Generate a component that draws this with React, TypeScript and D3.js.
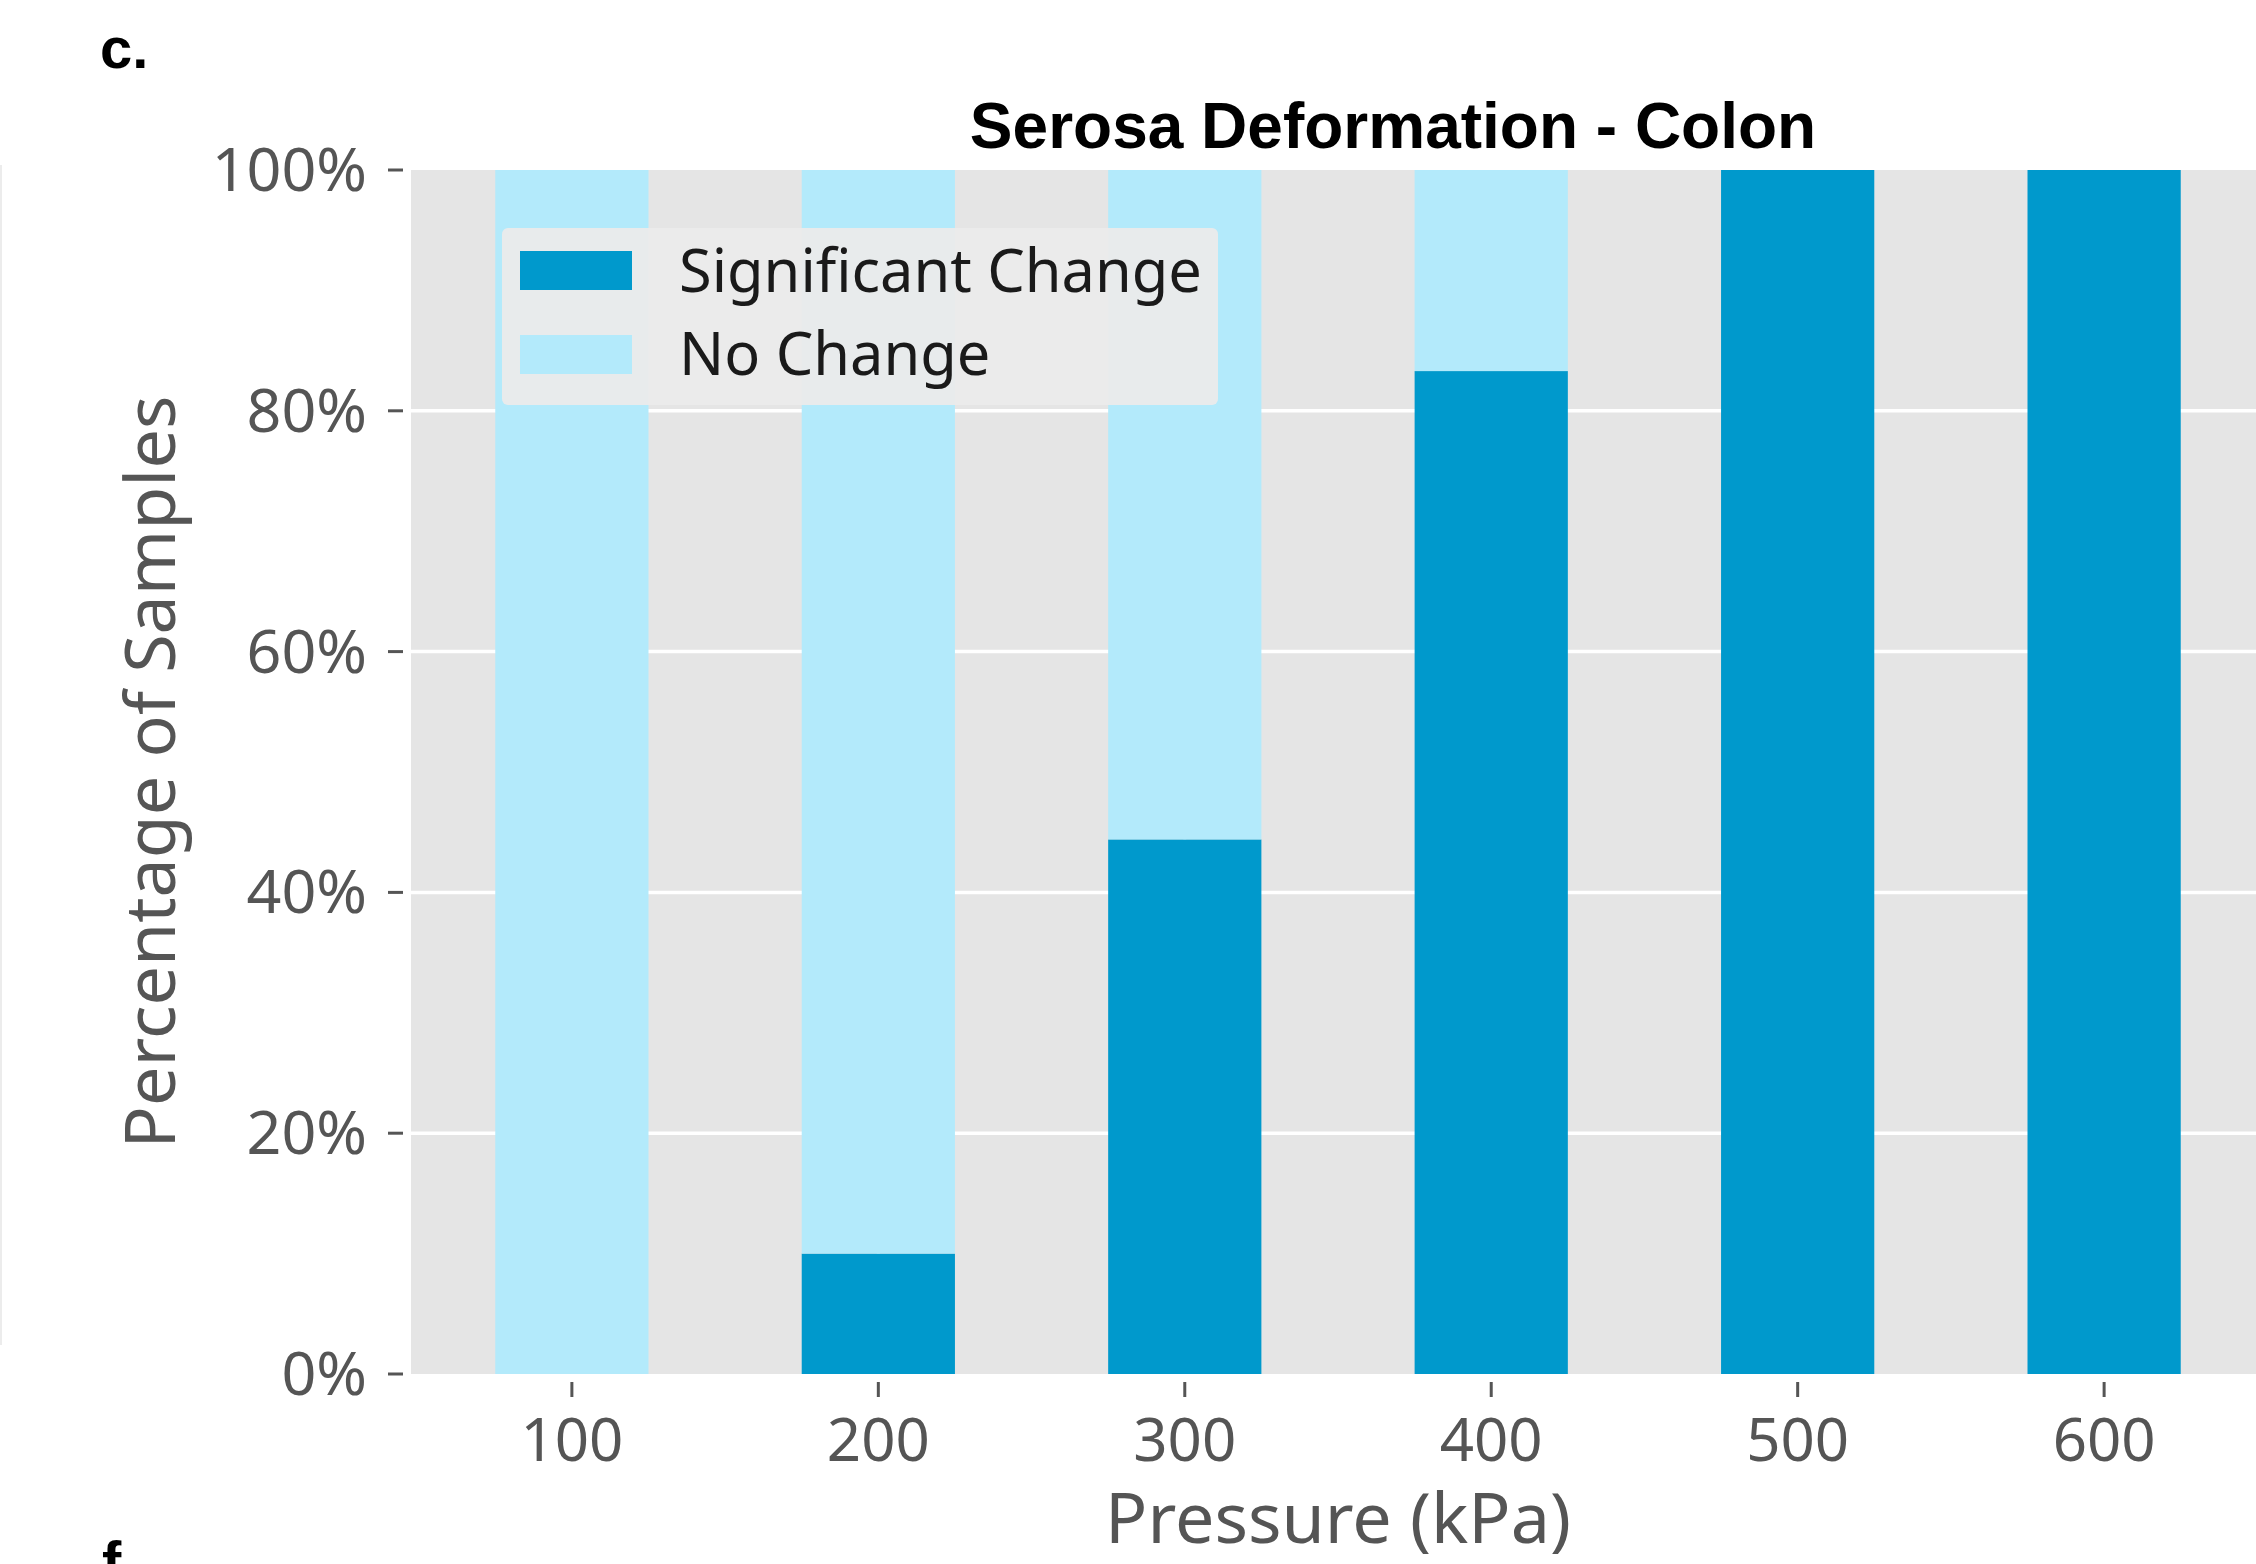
import React from "react";
import * as d3 from "d3";

const pressures = [100, 200, 300, 400, 500, 600];
const significantChange = [0, 10, 44.4, 83.3, 100, 100];
const noChange = [100, 90, 55.6, 16.7, 0, 0];
const yTicks = [0, 20, 40, 60, 80, 100];
const seriesNames = ["Significant Change", "No Change"];
const seriesColors = ["#0099cc", "#b3eafb"];
const titleText = "Serosa Deformation - Colon";
const xLabel = "Pressure (kPa)";
const yLabel = "Percentage of Samples";

export default function App() {
  const W = 2256, H = 1564;
  const left = 411, right = 2265, top = 170, bottom = 1374;
  const x = d3.scaleLinear().domain([47.5, 652.5]).range([left, right]);
  const y = d3.scaleLinear().domain([0, 100]).range([bottom, top]);
  const barW = x(50) - x(0);
  const font = "'Noto Sans', 'DejaVu Sans', sans-serif";
  const tickColor = "#555555";

  return (
    <svg width={W} height={H} style={{ position: "absolute", left: 0, top: 0, background: "#fff" }}>
      <line x1={1} x2={1} y1={165} y2={1345} stroke="#ececec" strokeWidth={2} />
      <text x={100} y={68} fontFamily="'Liberation Sans', Arial, sans-serif" fontWeight="bold" fontSize={58} fill="#000">c.</text>
      <text x={102} y={1582} fontFamily="'Liberation Sans', Arial, sans-serif" fontWeight="bold" fontSize={58} fill="#000">f</text>

      <rect x={left} y={top} width={W - left} height={bottom - top} fill="#e5e5e5" />
      {yTicks.filter(t => t > 0 && t < 100).map(t => (
        <line key={"gy" + t} x1={left} x2={W} y1={y(t)} y2={y(t)} stroke="#ffffff" strokeWidth={3.5} />
      ))}
      {pressures.map(p => (
        <line key={"gx" + p} x1={x(p)} x2={x(p)} y1={top} y2={bottom} stroke="#ffffff" strokeWidth={3} />
      ))}

      {pressures.map((p, i) => (
        <g key={"bar" + p}>
          <rect x={x(p) - barW / 2} width={barW} y={y(significantChange[i])} height={y(0) - y(significantChange[i])} fill={seriesColors[0]} />
          <rect x={x(p) - barW / 2} width={barW} y={y(significantChange[i] + noChange[i])} height={y(significantChange[i]) - y(significantChange[i] + noChange[i])} fill={seriesColors[1]} />
        </g>
      ))}

      {yTicks.map(t => (
        <g key={"yt" + t}>
          <line x1={left - 23} x2={left - 8} y1={y(t)} y2={y(t)} stroke={tickColor} strokeWidth={3} />
          <text x={367} y={y(t) + 21} textAnchor="end" fontFamily={font} fontSize={61} fill={tickColor}>{t + "%"}</text>
        </g>
      ))}
      {pressures.map(p => (
        <g key={"xt" + p}>
          <line x1={x(p)} x2={x(p)} y1={bottom + 8} y2={bottom + 23} stroke={tickColor} strokeWidth={3} />
          <text x={x(p)} y={1461} textAnchor="middle" fontFamily={font} fontSize={60} fill={tickColor}>{String(p)}</text>
        </g>
      ))}

      <text x={1338} y={1543} textAnchor="middle" fontFamily={font} fontSize={70} fill={tickColor}>{xLabel}</text>
      <text transform={`translate(175, ${(top + bottom) / 2}) rotate(-90)`} textAnchor="middle" fontFamily={font} fontSize={70} fill={tickColor}>{yLabel}</text>

      <text x={1393} y={148} textAnchor="middle" fontFamily="'Liberation Sans', Arial, sans-serif" fontWeight="bold" fontSize={64} fill="#000">{titleText}</text>

      <g>
        <rect x={502} y={228} width={716} height={177} rx={6} fill="#ebebeb" fillOpacity={0.95} />
        {seriesNames.map((n, i) => (
          <g key={n}>
            <rect x={520} y={251 + i * 84} width={112} height={39} fill={seriesColors[i]} />
            <text x={679} y={271 + i * 83 + 21} fontFamily={font} fontSize={59.5} fill="#1a1a1a">{n}</text>
          </g>
        ))}
      </g>
    </svg>
  );
}
